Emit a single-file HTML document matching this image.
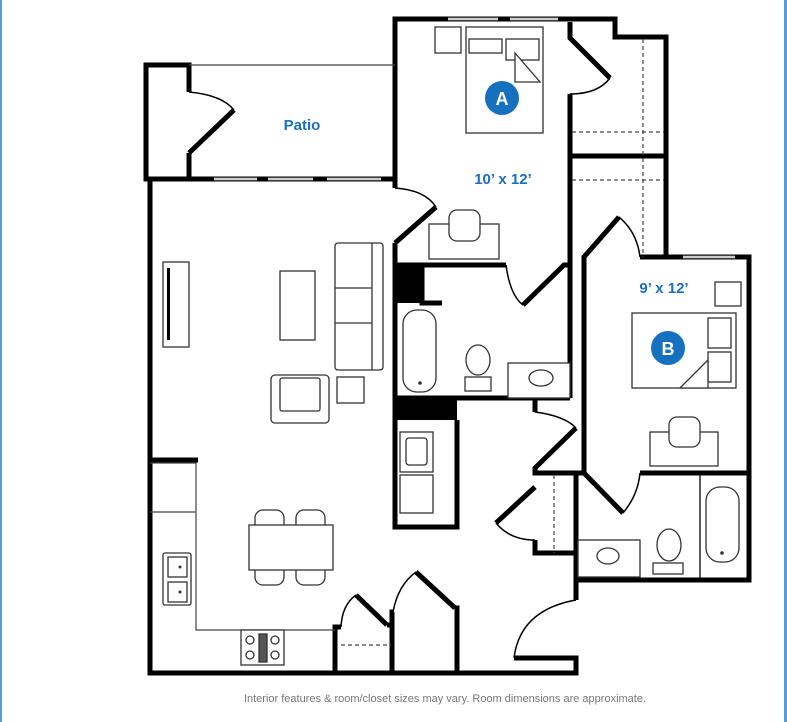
<!DOCTYPE html>
<html><head><meta charset="utf-8"><style>
html,body{margin:0;padding:0;background:#fff;width:787px;height:722px;overflow:hidden}
svg{display:block}
</style></head><body>
<svg width="787" height="722" viewBox="0 0 787 722" xmlns="http://www.w3.org/2000/svg">
<rect x="0" y="0" width="2" height="722" fill="#5a9ad8"/>
<rect x="784" y="0" width="3" height="722" fill="#5a9ad8"/>
<g fill="none" stroke="#000" stroke-width="5" stroke-linejoin="miter">
<polyline points="189,92 189,65 146,65 146,179 395,179"/>
<polyline points="189,153 189,179"/>
<line x1="189" y1="153" x2="234" y2="110"/>
<polyline points="395,188 395,19 615,19 615,37 666,37 666,257 640,257"/>
<line x1="395" y1="243" x2="436" y2="207"/>
<polyline points="395,243 395,420"/>
<polyline points="570,22 570,38 610,78"/>
<polyline points="570,94 570,398"/>
<line x1="570" y1="156" x2="666" y2="156"/>
<polyline points="584,473 584,257 619,217"/>
<polyline points="395,265 506,265"/>
<polyline points="523,305 564,265 570,265"/>
<polyline points="422,265 422,303 442,303"/>
<polyline points="395,398 570,398"/>
<polyline points="535,398 535,412"/>
<polyline points="576,428 535,468 535,473 584,473"/>
<polyline points="640,257 749,257 749,580 576,580"/>
<polyline points="640,473 749,473"/>
<line x1="584" y1="473" x2="623" y2="513"/>
<line x1="700" y1="473" x2="700" y2="580" stroke-width="1.3"/>
<polyline points="535,487 496,523"/>
<polyline points="535,540 535,553 576,553"/>
<polyline points="576,473 576,600"/>
<polyline points="514,658 576,658 576,673 150,673 150,179"/>
<polyline points="395,420 395,527 457,527 457,420"/>
<line x1="150" y1="460" x2="198" y2="460"/>
<polyline points="335,673 335,627 341,627"/>
<line x1="356" y1="595" x2="387" y2="625"/>
<polyline points="387,625 392,625 392,673"/>
<polyline points="392,673 392,612 393,612"/>
<line x1="416" y1="572" x2="455" y2="608"/>
<polyline points="455,608 457,608 457,673"/>
</g>
<rect x="395" y="265" width="27" height="38" fill="#000"/>
<rect x="395" y="398" width="62" height="22" fill="#000"/>
<g fill="none" stroke="#000" stroke-width="1.5">
<path d="M189,92 Q222,95 234,110"/>
<path d="M395,188 Q425,190 436,207"/>
<path d="M570,94 Q598,94 610,78"/>
<path d="M506,265 Q510,295 523,305"/>
<path d="M619,217 Q637,232 640,257"/>
<path d="M535,412 Q565,416 576,428"/>
<path d="M623,513 Q638,495 640,473"/>
<path d="M496,523 Q510,540 535,540"/>
<path d="M576,600 Q520,610 514,658"/>
<path d="M341,627 Q342,605 356,595"/>
<path d="M393,612 Q398,585 416,572"/>
</g>
<g fill="none" stroke="#444" stroke-width="1.2">
<line x1="189" y1="65" x2="395" y2="65"/>
<line x1="643" y1="39" x2="643" y2="257" stroke-dasharray="4,3"/>
<line x1="572" y1="132" x2="664" y2="132" stroke-dasharray="4,3"/>
<line x1="572" y1="180" x2="664" y2="180" stroke-dasharray="4,3"/>
<line x1="554" y1="475" x2="554" y2="553" stroke-dasharray="4,3"/>
<line x1="341" y1="645" x2="391" y2="645" stroke-dasharray="4,3"/>
<polyline points="150,463 196,463 196,630 335,630"/>
<line x1="150" y1="512" x2="196" y2="512"/>
</g>
<g stroke="#fff" stroke-width="2.5">
<line x1="214" y1="179" x2="257" y2="179"/><line x1="268" y1="179" x2="313" y2="179"/><line x1="327" y1="179" x2="381" y2="179"/>
<line x1="448" y1="19" x2="498" y2="19"/><line x1="510" y1="19" x2="558" y2="19"/>
<line x1="683" y1="257" x2="735" y2="257"/>
</g>
<g stroke="#999" stroke-width="1">
<line x1="214" y1="179" x2="257" y2="179"/><line x1="268" y1="179" x2="313" y2="179"/><line x1="327" y1="179" x2="381" y2="179"/>
<line x1="448" y1="19" x2="498" y2="19"/><line x1="510" y1="19" x2="558" y2="19"/>
<line x1="683" y1="257" x2="735" y2="257"/>
</g>
<g fill="#fff" stroke="#333" stroke-width="1.3">
<rect x="163" y="262" width="26" height="85"/>
<rect x="280" y="271" width="35" height="69"/>
<rect x="335" y="243" width="48" height="127" rx="3"/>
<line x1="372" y1="243" x2="372" y2="370"/>
<line x1="335" y1="288" x2="372" y2="288"/><line x1="335" y1="323" x2="372" y2="323"/>
<rect x="271" y="375" width="58" height="48" rx="4"/>
<rect x="280" y="378" width="40" height="33" rx="2"/>
<rect x="337" y="377" width="27" height="26"/>
<rect x="255" y="510" width="29" height="27" rx="8"/><rect x="296" y="510" width="29" height="27" rx="8"/>
<rect x="255" y="558" width="29" height="27" rx="8"/><rect x="296" y="558" width="29" height="27" rx="8"/>
<rect x="249" y="525" width="84" height="45"/>
<rect x="163" y="553" width="28" height="52" rx="2"/>
<rect x="168" y="557" width="19" height="20"/><rect x="168" y="582" width="19" height="20"/>
<rect x="241" y="630" width="43" height="35"/>
<circle cx="250" cy="640" r="4"/><circle cx="250" cy="655" r="4"/><circle cx="275" cy="640" r="4"/><circle cx="275" cy="655" r="4"/>
<rect x="259" y="634" width="8" height="28" fill="#555"/>
<rect x="435" y="27" width="26" height="26"/>
<rect x="466" y="27" width="77" height="106"/>
<rect x="469" y="39" width="33" height="14"/><rect x="506" y="39" width="33" height="21"/>
<path d="M515,53 L515,82 L540,82 Z"/>
<rect x="429" y="224" width="70" height="35"/>
<rect x="449" y="210" width="31" height="31" rx="8"/>
<rect x="403" y="310" width="33" height="82" rx="14"/>
<rect x="508" y="363" width="62" height="35"/>
<ellipse cx="541" cy="378" rx="12" ry="8"/>
<ellipse cx="478" cy="360" rx="12" ry="15"/>
<rect x="465" y="377" width="26" height="14"/>
<rect x="400" y="432" width="33" height="40"/><rect x="406" y="438" width="21" height="27" rx="3"/>
<rect x="400" y="475" width="33" height="38"/>
<rect x="715" y="282" width="26" height="24"/>
<rect x="632" y="313" width="104" height="75"/>
<rect x="708" y="318" width="23" height="30"/><rect x="708" y="352" width="23" height="30"/>
<path d="M708,360 L680,388 L708,388 Z"/>
<rect x="650" y="432" width="68" height="34"/>
<rect x="669" y="417" width="31" height="30" rx="8"/>
<rect x="706" y="487" width="33" height="75" rx="14"/>
<rect x="578" y="540" width="62" height="37"/>
<ellipse cx="608" cy="556" rx="11" ry="8"/>
<ellipse cx="669" cy="545" rx="12" ry="16"/>
<rect x="653" y="563" width="30" height="11"/>
</g>
<rect x="167" y="268" width="3" height="72" fill="#000"/>
<g fill="#333"><circle cx="420" cy="383" r="1.8"/><circle cx="722" cy="553" r="1.8"/><circle cx="180" cy="567" r="1.5"/><circle cx="180" cy="592" r="1.5"/></g>
<g font-family="Liberation Sans, sans-serif" font-weight="bold" fill="#1a6fc0">
<text x="302" y="130" font-size="15" text-anchor="middle">Patio</text>
<text x="503" y="184" font-size="15" text-anchor="middle">10’ x 12’</text>
<text x="664" y="293" font-size="15" text-anchor="middle">9’ x 12’</text>
</g>
<circle cx="502" cy="98" r="17" fill="#1570c0"/>
<circle cx="668" cy="348" r="17" fill="#1570c0"/>
<g font-family="Liberation Sans, sans-serif" font-weight="bold" fill="#fff" font-size="18" text-anchor="middle">
<text x="502" y="105">A</text><text x="668" y="355">B</text>
</g>
<text x="445" y="702" font-family="Liberation Sans, sans-serif" font-size="11" fill="#777" text-anchor="middle">Interior features &amp; room/closet sizes may vary. Room dimensions are approximate.</text>
</svg>
</body></html>
